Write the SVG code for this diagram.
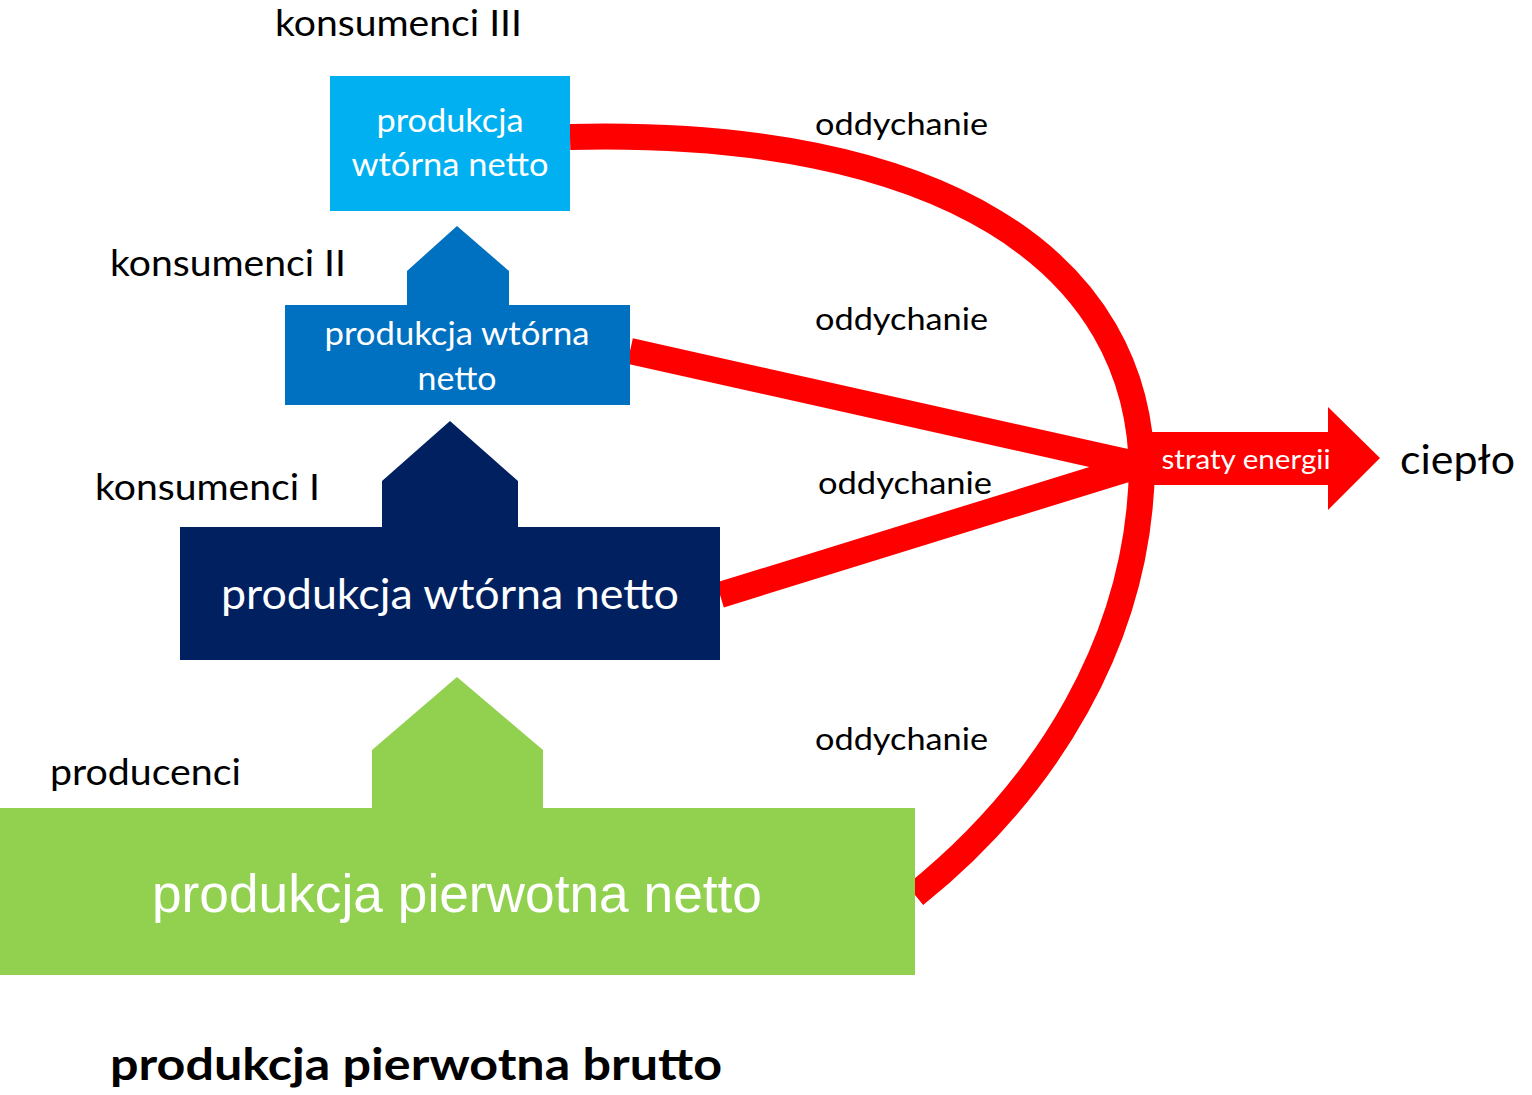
<svg xmlns="http://www.w3.org/2000/svg" width="1532" height="1095" viewBox="0 0 1532 1095">
  <style>
    .lbl { font-family: Lato, "Open Sans", sans-serif; fill: #000; }
    .in { font-family: Lato, "Open Sans", sans-serif; fill: #fff; text-anchor: middle; }
    .flow { fill: none; stroke: #ff0000; stroke-width: 26; }
  </style>
  <rect width="1532" height="1095" fill="#fff"/>

  <!-- respiration flows -->
  <g id="connectors">
    <path class="flow" d="M570,137 C940,128 1142,260 1142,475"/>
    <path class="flow" d="M1142,465 C1140,640 1045,790 915,895"/>
    <line class="flow" x1="630" y1="351" x2="1140" y2="465"/>
    <line class="flow" x1="720" y1="595" x2="1140" y2="465"/>
    <polygon id="heat-arrow" fill="#ff0000" points="1130,432 1328,432 1328,407 1380,458 1328,510 1328,485 1130,485"/>
    <text class="in" x="1246" y="469" font-size="26" textLength="169" lengthAdjust="spacingAndGlyphs">straty energii</text>
  </g>

  <g id="consumers-3">
    <rect x="330" y="76" width="240" height="135" fill="#00b0f0"/>
    <text class="in" x="450" y="132" font-size="32" textLength="147" lengthAdjust="spacingAndGlyphs">produkcja</text>
    <text class="in" x="450" y="176" font-size="32" textLength="197" lengthAdjust="spacingAndGlyphs">wtórna netto</text>
  </g>

  <g id="consumers-2">
    <polygon fill="#0070c0" points="457,226 509,271 509,305 630,305 630,405 285,405 285,305 407,305 407,271"/>
    <text class="in" x="457" y="345" font-size="32" textLength="265" lengthAdjust="spacingAndGlyphs">produkcja wtórna</text>
    <text class="in" x="457" y="390" font-size="32" textLength="79" lengthAdjust="spacingAndGlyphs">netto</text>
  </g>

  <g id="consumers-1">
    <polygon fill="#002060" points="450,421 518,481 518,527 720,527 720,660 180,660 180,527 382,527 382,481"/>
    <text class="in" x="450" y="609" font-size="42" textLength="458" lengthAdjust="spacingAndGlyphs">produkcja wtórna netto</text>
  </g>

  <g id="producers">
    <polygon fill="#92d050" points="457,677 543,750 543,808 915,808 915,975 0,975 0,808 372,808 372,750"/>
    <text x="457" y="912" font-family="'Liberation Sans', Arial, sans-serif" font-size="54" fill="#fff" text-anchor="middle" textLength="610" lengthAdjust="spacingAndGlyphs">produkcja pierwotna netto</text>
  </g>

  <!-- trophic level labels -->
  <g id="labels">
    <text class="lbl" x="275" y="36" font-size="36" textLength="247" lengthAdjust="spacingAndGlyphs">konsumenci III</text>
    <text class="lbl" x="110" y="276" font-size="36" textLength="236" lengthAdjust="spacingAndGlyphs">konsumenci II</text>
    <text class="lbl" x="95" y="500" font-size="36" textLength="225" lengthAdjust="spacingAndGlyphs">konsumenci I</text>
    <text class="lbl" x="50" y="785" font-size="36" textLength="191" lengthAdjust="spacingAndGlyphs">producenci</text>
    <text class="lbl" x="815" y="135" font-size="30" textLength="173" lengthAdjust="spacingAndGlyphs">oddychanie</text>
    <text class="lbl" x="815" y="330" font-size="30" textLength="173" lengthAdjust="spacingAndGlyphs">oddychanie</text>
    <text class="lbl" x="818" y="494" font-size="30" textLength="174" lengthAdjust="spacingAndGlyphs">oddychanie</text>
    <text class="lbl" x="815" y="750" font-size="30" textLength="173" lengthAdjust="spacingAndGlyphs">oddychanie</text>
    <text class="lbl" x="1400" y="474" font-size="40" textLength="115" lengthAdjust="spacingAndGlyphs">ciepło</text>
    <text class="lbl" x="110" y="1080" font-size="44" font-weight="bold" textLength="612" lengthAdjust="spacingAndGlyphs">produkcja pierwotna brutto</text>
  </g>
</svg>
